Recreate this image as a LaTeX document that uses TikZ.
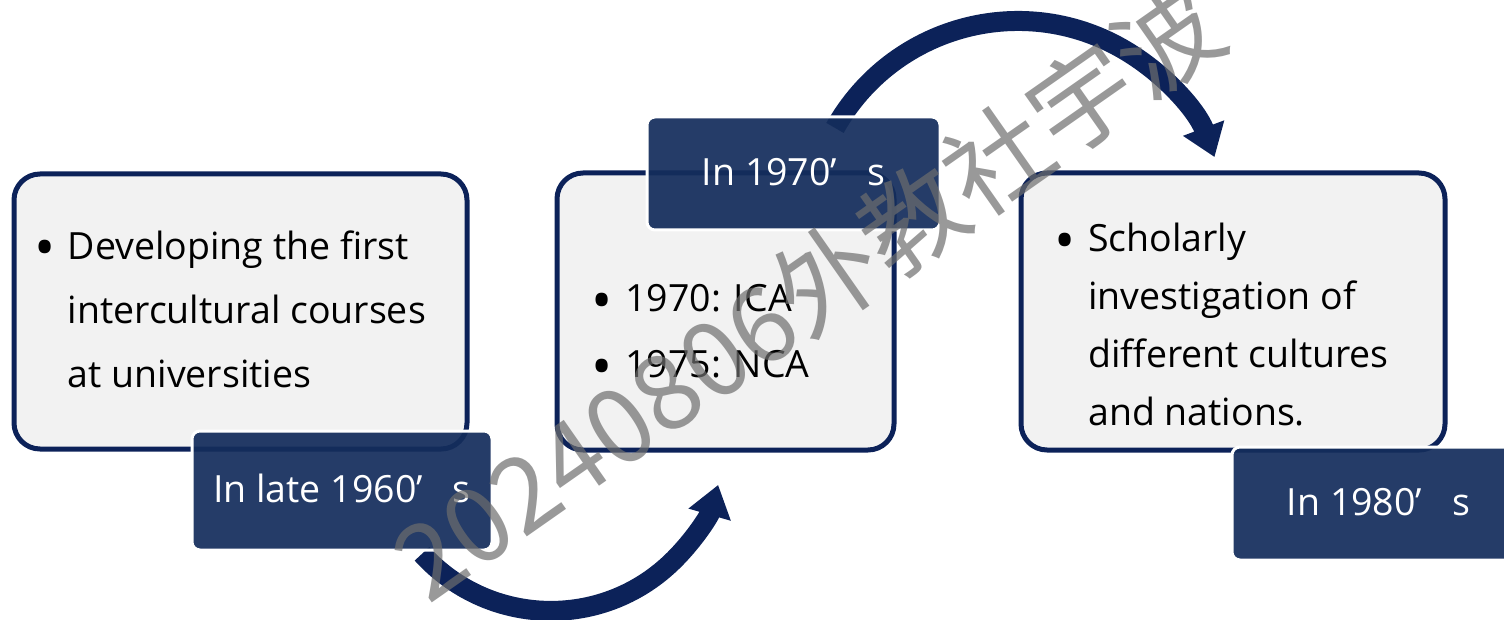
\documentclass[tikz,border=0pt]{standalone}
\usepackage{fontspec}
\setmainfont{Open Sans}
\newfontfamily\wmfont{Noto Sans CJK SC}
\usetikzlibrary{arrows.meta}

\definecolor{navy}{RGB}{12,34,89}
\definecolor{tagblue}{RGB}{20,45,92}
\definecolor{panelgray}{RGB}{242,242,242}
\definecolor{wmgray}{RGB}{110,110,110}

\tikzset{
  panelbox/.style={draw=navy, fill=panelgray, line width=5pt, rounded corners=26pt, inner sep=0pt},
  tagbox/.style={fill=tagblue, fill opacity=0.93, text opacity=1, draw=white, draw opacity=1,
    line width=3pt, rounded corners=8pt, text=white, inner sep=0pt,
    font=\fontsize{37.5}{45}\selectfont, text height=28.6pt, text depth=4pt},
  bodytext/.style={anchor=base west, inner sep=0pt, text=black, font=\fontsize{37.5}{45}\selectfont},
  flow/.style={draw=navy, line width=20pt, -{Triangle[width=42pt,length=31pt]}},
}
% enlarged bullet hung in the left margin of a line
\newcommand{\bul}{\llap{\raisebox{-8.4pt}{\scalebox{1.5}{•}}\hspace{12.4pt}}}

\begin{document}
\begin{tikzpicture}[x=1pt, y=-1pt]
  \useasboundingbox (0,0) rectangle (1504,620);
  \clip (0,0) rectangle (1504,620);

  % content panels
  \node[panelbox, minimum width=453pt, minimum height=275pt] (p1) at (240.5,311.5) {};
  \node[panelbox, minimum width=337pt, minimum height=277pt] (p2) at (725.5,311.5) {};
  \node[panelbox, minimum width=424pt, minimum height=277pt] (p3) at (1233,311.5) {};

  % curved arrows between the stages
  \coordinate (a1s) at (422,553.8);
  \coordinate (a2s) at (835,127.9);
  \draw[flow] (a1s) arc[start angle=137.8, end angle=16, radius=174];
  \draw[flow] (a2s) arc[start angle=-150.6, end angle=-20.6, radius=210];

  % period tags
  \node[tagbox, minimum width=300pt, minimum height=119pt] (t1) at (342,490.5) {In late 1960’\hspace{0.8em}s};
  \node[tagbox, minimum width=293pt, minimum height=113pt] (t2) at (793.5,173.5) {In 1970’\hspace{0.8em}s};
  \node[tagbox, minimum width=293pt, minimum height=113pt] (t3) at (1378.5,503.5) {In 1980’\hspace{0.8em}s};

  % panel contents
  \node[bodytext] (x1) at (67.5,259.3) {\vtop{\baselineskip=64pt
      \hbox{\bul Developing the first}
      \hbox{intercultural courses}
      \hbox{at universities}}};
  \node[bodytext] (x2) at (625,311.7) {\vtop{\baselineskip=66pt
      \hbox{\bul 1970: ICA}
      \hbox{\bul 1975: NCA}}};
  \node[bodytext] (x3) at (1088,251.7) {\vtop{\baselineskip=58pt
      \hbox{\bul Scholarly}
      \hbox{investigation of}
      \hbox{different cultures}
      \hbox{and nations.}}};

  % watermark
  \node[rotate=35, text=wmgray, text opacity=0.7, inner sep=0pt,
        font=\wmfont\fontsize{104}{104}\selectfont] (wm) at (808,291.6) {20240806外教社宇波};
\end{tikzpicture}
\end{document}
